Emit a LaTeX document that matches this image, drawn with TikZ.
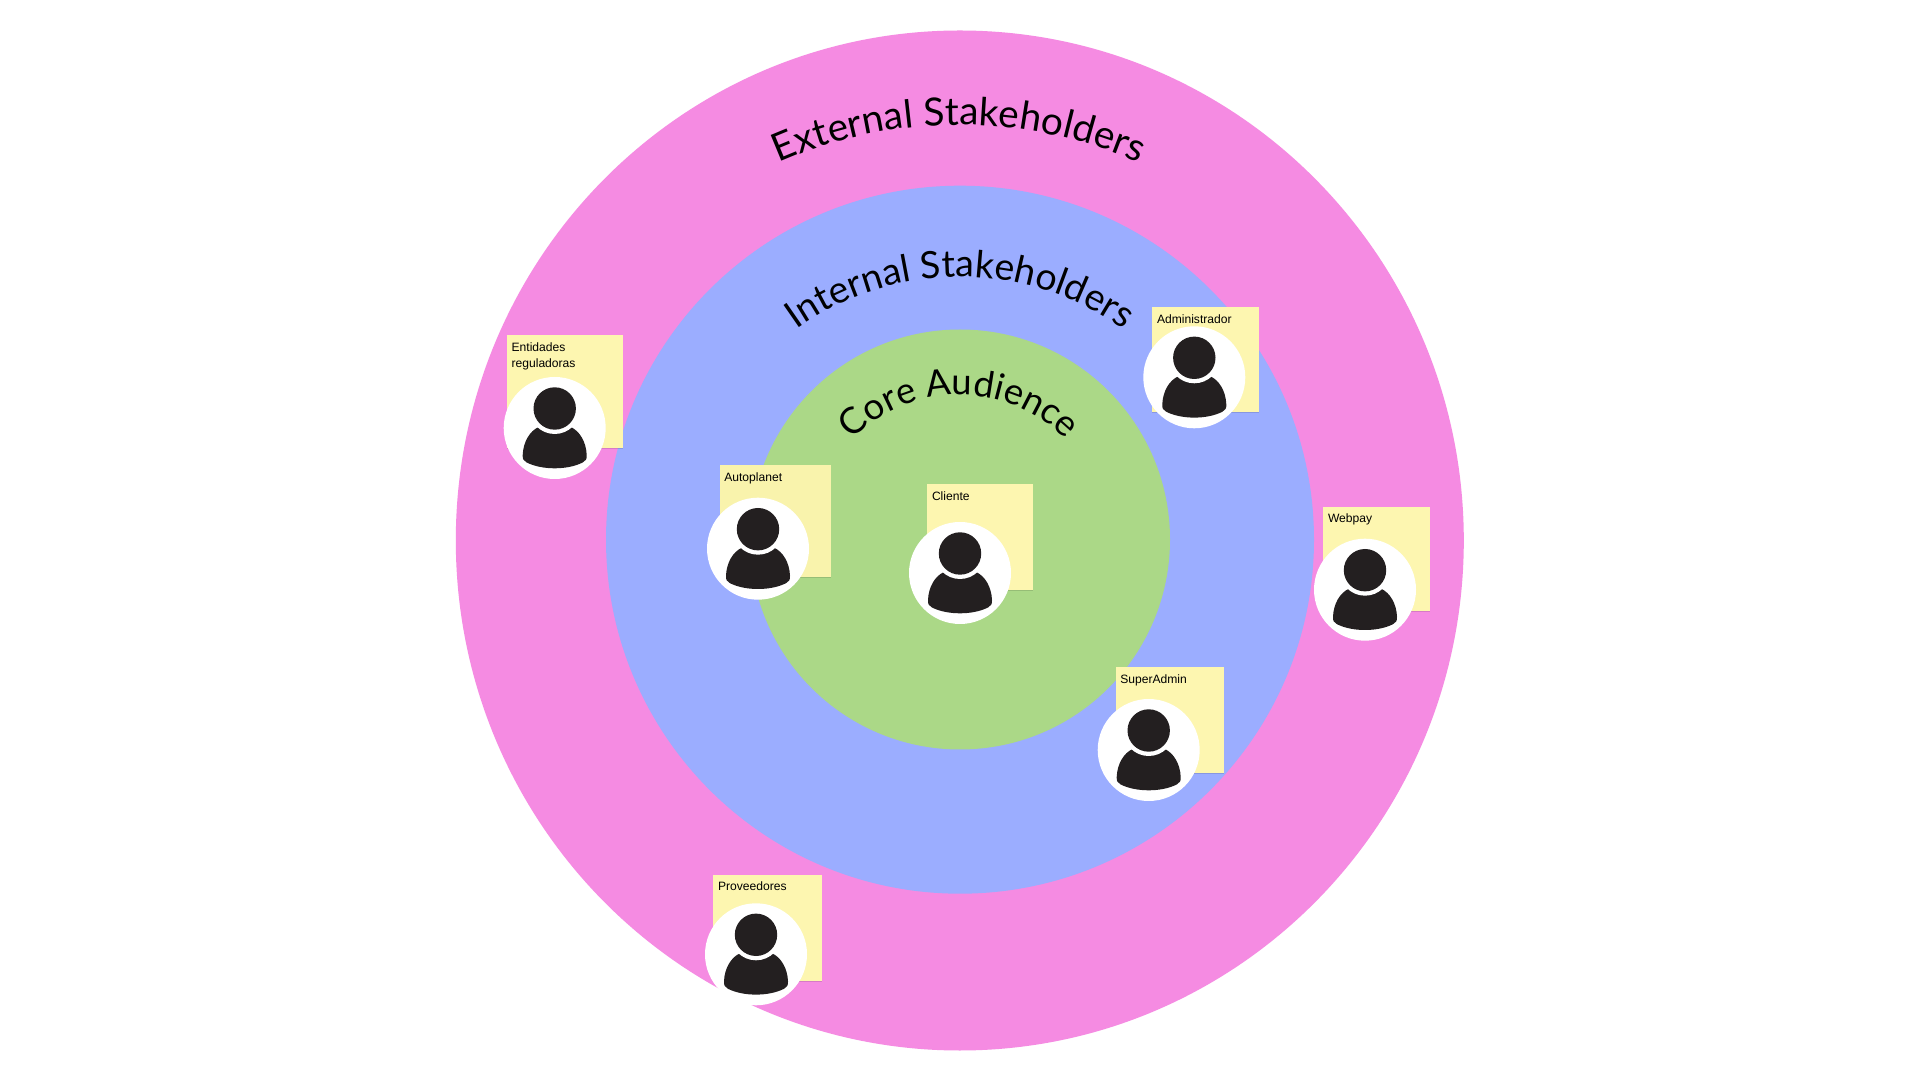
\documentclass[tikz,border=0pt]{standalone}
\usepackage{fontspec}
\usetikzlibrary{decorations.text,shadows}
\setmainfont{Liberation Sans}
\newfontfamily\headfam{Lato}
\newcommand\hdfontA{\headfam\fontsize{38.8}{44}\selectfont}
\newcommand\hdfontB{\headfam\fontsize{37.5}{44}\selectfont}
\newcommand\hdfontC{\headfam\fontsize{36.5}{44}\selectfont}
\definecolor{outerpink}{RGB}{245,139,226}
\definecolor{midblue}{RGB}{155,173,255}
\definecolor{coregreen}{RGB}{171,216,135}
\definecolor{notey}{RGB}{253,246,176}
\definecolor{notem}{RGB}{249,243,172}
\definecolor{persondark}{RGB}{35,31,32}
\tikzset{
  x=1pt,y=1pt,
  note/.style={draw=none,fill=notey,anchor=north west,inner sep=0,outer sep=0,
    drop shadow={shadow xshift=0pt,shadow yshift=-1.2pt,opacity=.12,fill=black}},
  notetext/.style={anchor=base west,inner sep=0,outer sep=0,font=\fontsize{12.1}{16}\selectfont,align=left,text=black},
  avatar/.style={circle,fill=white,minimum size=102pt,inner sep=0,outer sep=0},
  ring/.style={circle,inner sep=0,outer sep=0},
  person/.pic={
    \fill[persondark] (-16,1) .. controls (-25,-3) and (-31.5,-14) .. (-32,-27)
      .. controls (-32.3,-31) and (-31,-33) .. (-28,-34.5)
      .. controls (-20,-38.5) and (-10,-40.3) .. (0,-40.3)
      .. controls (10,-40.3) and (20,-38.5) .. (28,-34.5)
      .. controls (31,-33) and (32.3,-31) .. (32,-27)
      .. controls (31.5,-14) and (25,-3) .. (16,1) -- cycle;
    \fill[white] (0,19.5) circle[radius=25.5];
    \fill[persondark] (0,19.5) circle[radius=21.2];
  }
}
\begin{document}
\begin{tikzpicture}
\useasboundingbox (0,0) rectangle (1920,1080);
\fill[white] (0,0) rectangle (1920,1080);
\fill[outerpink] (959.8,539.5) ellipse[x radius=504,y radius=510];
\node[ring,fill=midblue,minimum size=708pt] (blue) at (960,540.3) {};
\node[ring,fill=coregreen,minimum size=420pt] (green) at (960,540.5) {};

\path[decorate,decoration={text along path,text align=center,text={|\hdfontA|External Stakeholders}}]
  (959,510) ++(120:445) arc[start angle=120,end angle=60,radius=445];
\path[decorate,decoration={text along path,text align=center,text={|\hdfontB|Internal Stakeholders}}]
  (960,523) ++(135:280) arc[start angle=135,end angle=45,radius=280];
\path[decorate,decoration={text along path,text align=center,text={|\hdfontC|Core Audience}}]
  (959,535) ++(155:150) arc[start angle=155,end angle=25,radius=150];

% Entidades reguladoras
\node[note,minimum width=116pt,minimum height=112.7pt] (nE) at (507,745) {};
\node[notetext] (tE) at (511.6,712.5) {Entidades\\reguladoras};
\node[avatar] (aE) at (554.7,652) {};
\pic at (aE) {person};
% Autoplanet
\node[note,fill=notem,minimum width=111.3pt,minimum height=112pt] (nA) at (719.7,615) {};
\node[notetext] (tA) at (724.3,598.5) {Autoplanet};
\node[avatar] (aA) at (758,531.3) {};
\pic at (aA) {person};
% Cliente
\node[note,minimum width=106pt,minimum height=106pt] (nC) at (927.3,595.7) {};
\node[notetext] (tC) at (932,579.3) {Cliente};
\node[avatar] (aC) at (960,507) {};
\pic at (aC) {person};
% Administrador
\node[note,minimum width=106.7pt,minimum height=104.7pt] (nD) at (1152.3,773) {};
\node[notetext] (tD) at (1157,756.5) {Administrador};
\node[avatar] (aD) at (1194.3,702.7) {};
\pic at (aD) {person};
% Webpay
\node[note,minimum width=106.7pt,minimum height=104pt] (nW) at (1323.3,573) {};
\node[notetext] (tW) at (1328,557.3) {Webpay};
\node[avatar] (aW) at (1365,490.3) {};
\pic at (aW) {person};
% SuperAdmin
\node[note,minimum width=108.6pt,minimum height=106.3pt] (nS) at (1115.7,413) {};
\node[notetext] (tS) at (1120.3,396.5) {SuperAdmin};
\node[avatar] (aS) at (1148.7,330) {};
\pic at (aS) {person};
% Proveedores
\node[note,minimum width=108.4pt,minimum height=106pt] (nP) at (713.3,205.3) {};
\node[notetext] (tP) at (718,189.6) {Proveedores};
\node[avatar] (aP) at (756,125.7) {};
\pic at (aP) {person};
\end{tikzpicture}
\end{document}
